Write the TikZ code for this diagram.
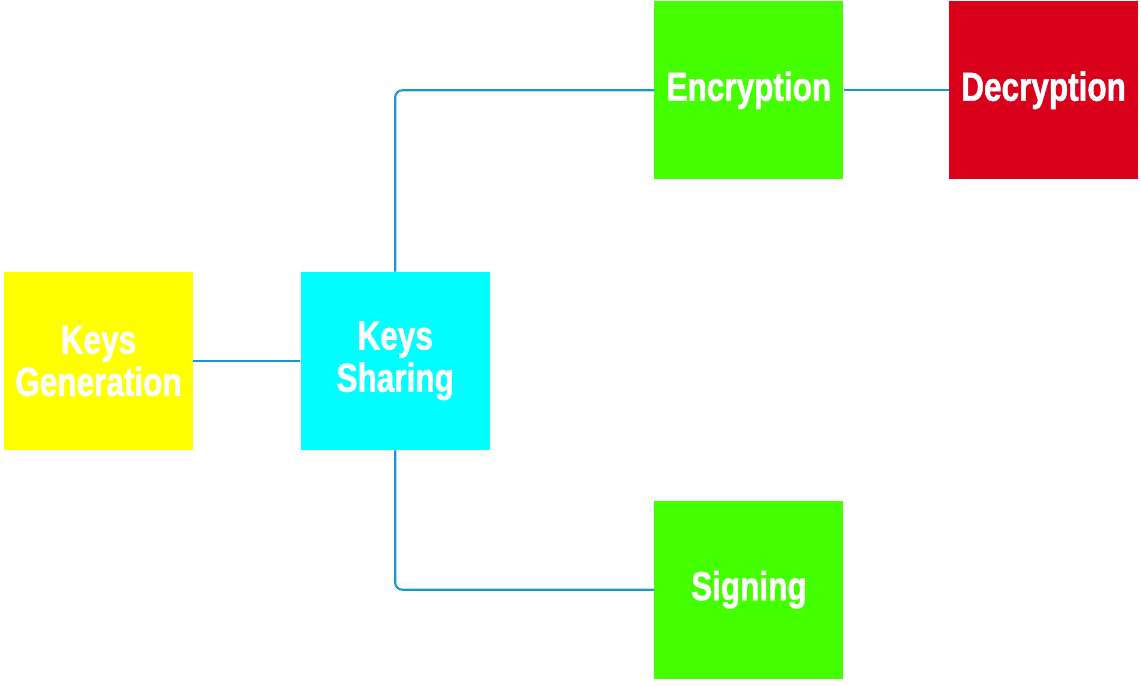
\documentclass[tikz,border=0pt]{standalone}
\usepackage{fontspec}
\setmainfont{Liberation Sans}[FakeStretch=0.78, BoldFeatures={FakeBold=1.2}]
\usepackage{xcolor}
\definecolor{genyellow}{RGB}{255, 255, 0}
\definecolor{sharecyan}{RGB}{0, 255, 255}
\definecolor{usegreen}{RGB}{68, 255, 0}
\definecolor{decred}{RGB}{217, 0, 27}
\definecolor{linkblue}{RGB}{26, 150, 208}
\usetikzlibrary{positioning}

\begin{document}
\begin{tikzpicture}[
    node distance=2.14cm and 2.14cm,
    every node/.style={align=center},
    block/.style={rectangle, minimum width=3.78cm, minimum height=3.56cm, inner sep=0pt,
        text=white, font=\fontsize{23}{24}\selectfont\bfseries},
    link/.style={draw=linkblue, line width=1.2pt, rounded corners=4pt}
]

\useasboundingbox (-1.97,-6.5) rectangle (20.85,7.22);

% Nodes
\node[block, fill=genyellow] (gen) {Keys\\Generation};
\node[block, fill=sharecyan, right=of gen] (share) {Keys\\Sharing};
\node[block, fill=usegreen, above right=1.84cm and 3.28cm of share] (enc) {Encryption};
\node[block, fill=decred, right=2.1cm of enc] (dec) {Decryption};
\node[block, fill=usegreen, below right=1cm and 3.28cm of share] (sign) {Signing};

% Connections
\draw[link] (gen) -- (share);
\draw[link] (share.north) |- (enc);
\draw[link] (share.south) |- (sign);
\draw[link] (enc) -- (dec);

\end{tikzpicture}
\end{document}
